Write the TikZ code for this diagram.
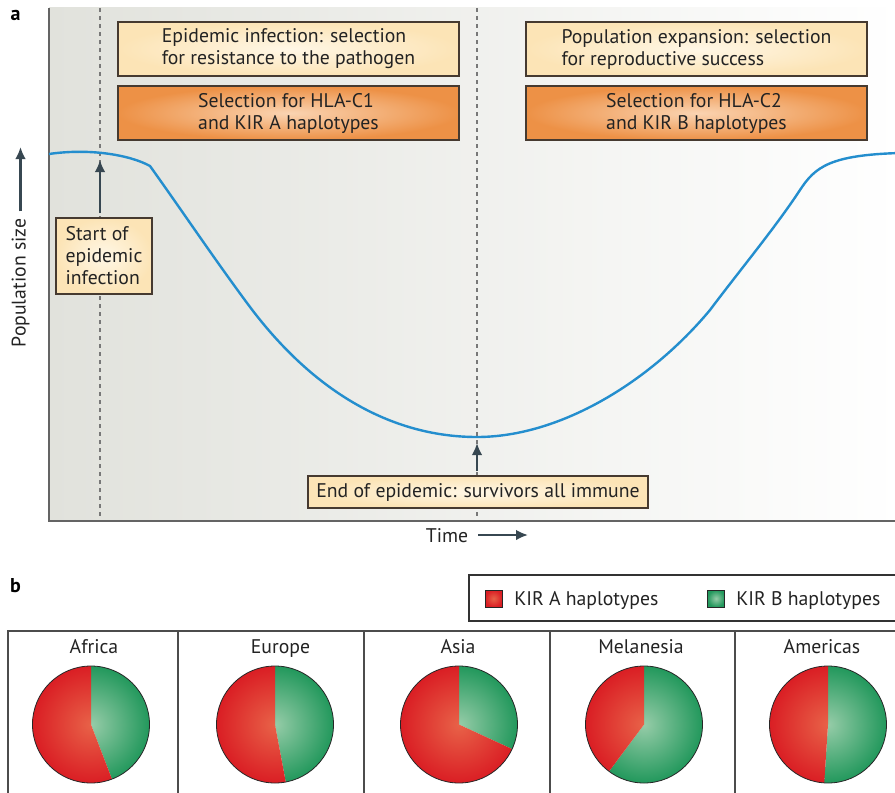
\documentclass[tikz,border=0pt]{standalone}
\usepackage{fontspec}
\setmainfont{PT Sans}
\usetikzlibrary{arrows.meta}
\definecolor{bgL}{RGB}{225,226,220}
\definecolor{lightin}{RGB}{255,247,230}
\definecolor{lightout}{RGB}{252,228,182}
\definecolor{boxline}{RGB}{70,58,48}
\definecolor{orin}{RGB}{250,212,178}
\definecolor{orout}{RGB}{237,145,70}
\definecolor{arrowc}{RGB}{55,71,81}
\definecolor{curvec}{RGB}{36,142,206}
\definecolor{dashc}{RGB}{120,120,120}
\definecolor{axisc}{RGB}{100,100,100}
\definecolor{redin}{RGB}{232,98,72}
\definecolor{redout}{RGB}{218,30,36}
\definecolor{grin}{RGB}{150,204,168}
\definecolor{grout}{RGB}{34,152,92}
\definecolor{textc}{RGB}{35,35,35}
\newcommand\kirpie[3]{%
  \begin{scope}
    \clip (#1,#2) -- ++(-90:58.5) arc[start angle=-90,end angle=#3,radius=58.5] -- cycle;
    \shade[inner color=grin,outer color=grout] (#1,#2) circle[radius=58.5];
  \end{scope}
  \begin{scope}
    \clip (#1,#2) -- ++(#3:58.5) arc[start angle=#3,end angle=270,radius=58.5] -- cycle;
    \shade[inner color=redin,outer color=redout] (#1,#2) circle[radius=58.5];
  \end{scope}
  \draw[pieline] (#1,#2) circle[radius=58.5];
}
\begin{document}
\begin{tikzpicture}[x=0.75pt,y=-0.75pt,
  every node/.style={font=\fontsize{14.8}{16.5}\selectfont, text=textc},
  lightbox/.style={draw=boxline, line width=0.8pt, inner color=lightin, outer color=lightout, align=left, inner sep=0pt},
  orangebox/.style={draw=boxline, line width=0.8pt, inner color=orin, outer color=orout, align=left, inner sep=0pt},
  arr/.style={draw=arrowc, line width=1.8pt, -{Latex[length=9pt,width=8pt]}},
  dashln/.style={draw=dashc, line width=0.9pt, dash pattern=on 3pt off 3pt},
  curve/.style={draw=curvec, line width=1.8pt},
  axisln/.style={draw=axisc, line width=1pt},
  tableln/.style={draw=black!70, line width=0.8pt},
  pieline/.style={draw=black!85, line width=0.6pt},
  legsq/.style={draw=black!85, line width=0.6pt, minimum size=12.75pt, inner sep=0pt},
  panel/.style={font=\bfseries\fontsize{15}{18}\selectfont, text=black}
]
\useasboundingbox (0,0) rectangle (895,792);
\fill[white] (0,0) rectangle (895,792);

% ---------- panel a ----------
\shade[left color=bgL, right color=white] (49,8) rectangle (900,521);
\draw[dashln] (100,8) -- (100,521);
\draw[dashln] (477,8) -- (477,521);
\draw[axisln] (49,8) -- (49,521) -- (900,521);

\draw[curve] (49,154) .. controls (90,148) and (130,155) .. (150,166)
  .. controls (185,215) and (215,260) .. (250,307)
  .. controls (320,400) and (400,437) .. (477,437)
  .. controls (560,437) and (650,382) .. (710,310)
  .. controls (740,270) and (775,228) .. (800,190)
  .. controls (815,167) and (830,155) .. (900,153);

\node[panel] (la) at (15.5,15) {a};

\node[lightbox, minimum width=255.75pt, minimum height=40.5pt] (epi) at (288.5,49)
  {Epidemic infection: selection\\for resistance to the pathogen};
\node[orangebox, minimum width=255.75pt, minimum height=40.5pt] (hla1) at (288.5,113)
  {Selection for HLA-C1\\and KIR A haplotypes};
\node[lightbox, minimum width=255.75pt, minimum height=40.5pt] (pop) at (696.5,49)
  {Population expansion: selection\\for reproductive success};
\node[orangebox, minimum width=255.75pt, minimum height=40.5pt] (hla2) at (696.5,113)
  {Selection for HLA-C2\\and KIR B haplotypes};

\node[lightbox, minimum width=72pt, minimum height=57pt] (start) at (104,256)
  {Start of\\epidemic\\infection};
\coordinate (s0) at (100,213);
\coordinate (s1) at (100,160);
\draw[arr] (s0) -- (s1);

\node[lightbox, minimum width=255pt, minimum height=24pt] (endbox) at (478,492)
  {End of epidemic: survivors all immune};
\coordinate (e0) at (477,471);
\coordinate (e1) at (477,443);
\draw[arr] (e0) -- (e1);

\node[rotate=90] (ylab) at (20.5,283) {Population size};
\coordinate (ytip) at (22,147);
\draw[arr] ([yshift=2pt]ylab.east) -- (ylab.east |- ytip);

\node (time) at (447,536) {Time};
\coordinate (t0) at (478,535);
\coordinate (t1) at (528,535);
\draw[arr] (t0) -- (t1);

% ---------- panel b ----------
\node[panel] (lb) at (15.5,586) {b};

\draw[draw=black!80, line width=0.9pt] (900,575) -- (469,575) -- (469,621) -- (900,621);
\node[legsq, inner color=redin, outer color=redout] (sqA) at (493.5,598.5) {};
\node[anchor=base west, inner sep=0pt] (txA) at (514,605.5) {KIR A haplotypes};
\node[legsq, inner color=grin, outer color=grout] (sqB) at (716,598.5) {};
\node[anchor=base west, inner sep=0pt] (txB) at (736,605.5) {KIR B haplotypes};

\draw[tableln] (900,631) -- (8,631) -- (8,800);
\foreach \xx in {178,364,550,735} { \draw[tableln] (\xx,631) -- (\xx,800); }

\node[anchor=base] (nAf) at (94,653) {Africa};
\node[anchor=base] (nEu) at (280.5,653) {Europe};
\node[anchor=base] (nAs) at (458,653) {Asia};
\node[anchor=base] (nMe) at (641,653) {Melanesia};
\node[anchor=base] (nAm) at (822,653) {Americas};

\kirpie{91}{724.5}{69}
\kirpie{275}{724.5}{79.4}
\kirpie{459}{724.5}{24.8}
\kirpie{644}{724.5}{126.7}
\kirpie{828}{724.5}{93.7}
\end{tikzpicture}
\end{document}
